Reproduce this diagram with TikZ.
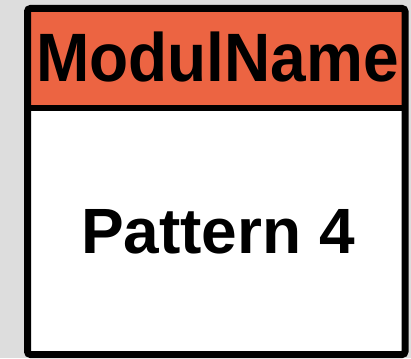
\documentclass[tikz,border=0pt]{standalone}
\usepackage{fontspec}
\setmainfont{Liberation Sans}
\definecolor{pagegray}{RGB}{221,221,221}
\definecolor{headorange}{RGB}{236,100,66}
\begin{document}
\begin{tikzpicture}[x=1pt,y=-1pt,
  frame/.style={draw=black,line width=7pt,rounded corners=3pt},
  label/.style={anchor=base,inner sep=0pt,font=\bfseries\fontsize{64}{64}\selectfont}]
  % canvas
  \fill[pagegray] (0,0) rectangle (411,358);
  \useasboundingbox (0,0) rectangle (411,358);
  % module body and header
  \fill[white] (27.5,108) rectangle (405,354.5);
  \fill[headorange] (27.5,8.5) rectangle (405,108);
  \draw[black,line width=6.5pt] (27.5,108) -- (405,108);
  \draw[frame] (27.5,8.5) rectangle (405,354.5);
  % texts
  \node[label,yscale=1.07] (title) at (217.5,82) {ModulName};
  \node[label] (body) at (218,253) {Pattern 4};
\end{tikzpicture}
\end{document}
